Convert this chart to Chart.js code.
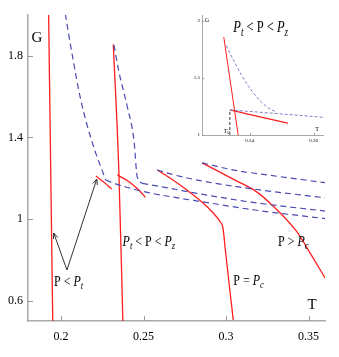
<!DOCTYPE html>
<html>
<head>
<meta charset="utf-8">
<script src="https://cdn.jsdelivr.net/npm/chart.js@4/dist/chart.umd.min.js"></script>
<style>
  html, body { margin: 0; padding: 0; background: #fff; }
  #wrap { position: relative; width: 339px; height: 357px; }
  #main { position: absolute; left: 0; top: 0; }
  #inset { position: absolute; left: 170px; top: 0; }
</style>
</head>
<body>
<div id="wrap">
  <canvas id="main" width="339" height="357"></canvas>
  <canvas id="inset" width="169" height="150"></canvas>
</div>
<script>
// ---- main panel: G against T, [T, G] pairs ----
const xTicks = [0.2, 0.25, 0.3, 0.35];
const yTicks = [0.6, 1, 1.4, 1.8];

// P < Pt
const lowRedSteep = [[0.1925, 2.0], [0.195, 0.5]];
const lowRedStub = [[0.2211, 1.211], [0.2259, 1.181], [0.2307, 1.147]];
const lowDashUpper = [[0.2026, 2.005], [0.2070, 1.796], [0.2120, 1.583], [0.2191, 1.371], [0.2271, 1.191]];
const lowDashLower = [[0.2271, 1.191], [0.2331, 1.172], [0.2410, 1.153], [0.2452, 1.144], [0.2530, 1.129], [0.2681, 1.107], [0.2843, 1.086], [0.3175, 1.044], [0.36, 1.002]];

// Pt < P < Pz
const midRedSteep = [[0.2317, 1.856], [0.2351, 1.225], [0.2375, 0.5]];
const midRedStub = [[0.2342, 1.216], [0.2412, 1.183], [0.2472, 1.142], [0.2512, 1.106]];
const midDashUpper = [[0.2321, 1.853], [0.2351, 1.722], [0.2402, 1.550], [0.2442, 1.387], [0.2462, 1.207], [0.2492, 1.175]];
const midDashLower = [[0.2492, 1.175], [0.2663, 1.150], [0.2843, 1.123], [0.3175, 1.080], [0.36, 1.039]];

// P = Pc
const pcRed = [[0.2583, 1.240], [0.2663, 1.200], [0.2763, 1.142], [0.2863, 1.077], [0.2924, 1.028], [0.2964, 0.987], [0.2980, 0.962], [0.2987, 0.922], [0.2994, 0.864], [0.3044, 0.505]];
const pcDash = [[0.2583, 1.240], [0.2663, 1.221], [0.2843, 1.188], [0.3175, 1.146], [0.36, 1.104]];

// P > Pc
const hiRed = [[0.2855, 1.275], [0.3066, 1.186], [0.3175, 1.139], [0.3272, 1.074], [0.3428, 0.939], [0.3524, 0.814], [0.3608, 0.701]];
const hiDash = [[0.2855, 1.275], [0.3065, 1.237], [0.3205, 1.221], [0.36, 1.178]];

// arrows from the "P < Pt" label
const arrowFrom = [0.2036, 0.75];
const arrowTo = [[0.1956, 0.931], [0.2217, 1.196]];

// ---- inset: zoom on Pt < P < Pz ----
const insetXTicks = [0.24, 0.26];
const insetYTicks = [1, 1.5, 2];
const insetRedSteep = [[0.2319, 1.857], [0.2364, 1.0]];
const insetRedStub = [[0.2338, 1.219], [0.2519, 1.103]];
const insetDashTop = [[0.2327, 1.781], [0.2349, 1.658], [0.2374, 1.526], [0.2402, 1.404], [0.2430, 1.307], [0.2458, 1.237], [0.2483, 1.202]];
const insetDashFlat = [[0.2338, 1.219], [0.2465, 1.192], [0.2629, 1.155]];
const insetT0 = [[0.2338, 1.0], [0.2338, 1.219]];

const RED = 'rgb(255,30,30)';
const BLUE = 'rgb(75,75,180)';
const FONT = '"Liberation Serif", "DejaVu Serif", serif';

const pts = a => a.map(p => ({ x: p[0], y: p[1] }));

function curve(data, color, width, dash) {
  return {
    data: pts(data),
    showLine: true,
    borderColor: color,
    borderWidth: width,
    borderDash: dash || [],
    pointRadius: 0,
    fill: false,
    cubicInterpolationMode: 'monotone'
  };
}

// text like P < P_t : parts are [text, 'n' | 'i' | 's']
function richText(ctx, x, y, parts, size, sx) {
  ctx.save();
  ctx.translate(x, y);
  ctx.scale(sx, 1);
  ctx.textAlign = 'left';
  ctx.textBaseline = 'middle';
  ctx.fillStyle = '#000';
  let cx = 0;
  parts.forEach(([t, s]) => {
    const sz = s === 's' ? size * 0.72 : size;
    ctx.font = (s === 'n' ? '' : 'italic ') + sz + 'px ' + FONT;
    ctx.fillText(t, cx, s === 's' ? size * 0.3 : 0);
    cx += ctx.measureText(t).width;
  });
  ctx.restore();
}

function arrow(ctx, x1, y1, x2, y2) {
  const a = Math.atan2(y2 - y1, x2 - x1);
  ctx.beginPath();
  ctx.moveTo(x1, y1);
  ctx.lineTo(x2, y2);
  ctx.moveTo(x2 - 6 * Math.cos(a - 0.4), y2 - 6 * Math.sin(a - 0.4));
  ctx.lineTo(x2, y2);
  ctx.lineTo(x2 - 6 * Math.cos(a + 0.4), y2 - 6 * Math.sin(a + 0.4));
  ctx.stroke();
}

// tick marks pointing into the plot
const inwardTicks = {
  id: 'inwardTicks',
  afterDraw(chart, args, opts) {
    const ctx = chart.ctx;
    const x = chart.scales.x, y = chart.scales.y;
    const area = chart.chartArea;
    ctx.save();
    ctx.strokeStyle = opts.color;
    ctx.lineWidth = 1;
    x.ticks.forEach(t => {
      const px = Math.round(x.getPixelForValue(t.value)) + 0.5;
      ctx.beginPath();
      ctx.moveTo(px, area.bottom);
      ctx.lineTo(px, area.bottom - opts.len);
      ctx.stroke();
    });
    y.ticks.forEach(t => {
      const py = Math.round(y.getPixelForValue(t.value)) + 0.5;
      ctx.beginPath();
      ctx.moveTo(area.left, py);
      ctx.lineTo(area.left + opts.len, py);
      ctx.stroke();
    });
    ctx.restore();
  }
};

const mainLabels = {
  id: 'mainLabels',
  afterDraw(chart) {
    const ctx = chart.ctx;
    const x = chart.scales.x, y = chart.scales.y;
    const area = chart.chartArea;
    const X = v => x.getPixelForValue(v), Y = v => y.getPixelForValue(v);
    ctx.save();
    ctx.fillStyle = '#000';
    ctx.font = '15px ' + FONT;
    ctx.textAlign = 'center';
    ctx.textBaseline = 'middle';
    ctx.fillText('G', area.left + 9, area.top + 23);
    ctx.fillText('T', area.right - 13, area.bottom - 16);

    richText(ctx, X(0.1958), Y(0.691), [['P < ', 'n'], ['P', 'i'], ['t', 's']], 15, 0.8);
    richText(ctx, X(0.2373), Y(0.887), [['P', 'i'], ['t', 's'], [' < P < ', 'n'], ['P', 'i'], ['z', 's']], 15, 0.8);
    richText(ctx, X(0.3044), Y(0.696), [['P = ', 'n'], ['P', 'i'], ['c', 's']], 15, 0.8);
    richText(ctx, X(0.3315), Y(0.889), [['P > ', 'n'], ['P', 'i'], ['c', 's']], 15, 0.8);

    ctx.strokeStyle = '#333';
    ctx.lineWidth = 1;
    arrowTo.forEach(p => arrow(ctx, X(arrowFrom[0]), Y(arrowFrom[1]), X(p[0]), Y(p[1])));
    ctx.restore();
  }
};

const insetLabels = {
  id: 'insetLabels',
  afterDraw(chart) {
    const ctx = chart.ctx;
    const x = chart.scales.x, y = chart.scales.y;
    const area = chart.chartArea;
    ctx.save();
    ctx.fillStyle = '#000';
    ctx.textAlign = 'center';
    ctx.textBaseline = 'middle';
    ctx.font = '6px ' + FONT;
    ctx.fillText('G', area.left + 5, y.getPixelForValue(2));
    ctx.fillText('T', area.right - 6, area.bottom - 6);
    richText(ctx, x.getPixelForValue(insetT0[0][0]) - 6, area.bottom - 4, [['T', 'i'], ['0', 's']], 6, 1);
    richText(ctx, x.getPixelForValue(0.2349), y.getPixelForValue(1.939), [['P', 'i'], ['t', 's'], [' < P < ', 'n'], ['P', 'i'], ['z', 's']], 16, 0.78);
    ctx.restore();
  }
};

new Chart(document.getElementById('main'), {
  type: 'scatter',
  plugins: [inwardTicks, mainLabels],
  data: {
    datasets: [
      curve(lowDashUpper, BLUE, 1.2, [6, 4]),
      curve(lowDashLower, BLUE, 1.2, [6, 4]),
      curve(midDashUpper, BLUE, 1.2, [6, 4]),
      curve(midDashLower, BLUE, 1.2, [6, 4]),
      curve(pcDash, BLUE, 1.2, [6, 4]),
      curve(hiDash, BLUE, 1.2, [6, 4]),
      curve(lowRedSteep, RED, 1.3),
      curve(lowRedStub, RED, 1.3),
      curve(midRedSteep, RED, 1.3),
      curve(midRedStub, RED, 1.3),
      curve(pcRed, RED, 1.3),
      curve(hiRed, RED, 1.3)
    ]
  },
  options: {
    responsive: false,
    animation: false,
    layout: { padding: { left: 0, right: 14, top: 15, bottom: 0 } },
    plugins: {
      legend: { display: false },
      tooltip: { enabled: false },
      inwardTicks: { len: 5, color: '#999' }
    },
    scales: {
      x: {
        type: 'linear',
        min: 0.18,
        max: 0.36,
        afterBuildTicks: s => { s.ticks = xTicks.map(v => ({ value: v })); },
        afterFit: s => { s.height = 36; },
        grid: { display: false, drawTicks: false },
        border: { color: '#aaa', width: 1.5 },
        ticks: {
          padding: 9,
          color: '#000',
          maxRotation: 0,
          autoSkip: false,
          font: { family: FONT, size: 12 },
          callback: v => String(v)
        }
      },
      y: {
        type: 'linear',
        min: 0.5,
        max: 2.0,
        afterBuildTicks: s => { s.ticks = yTicks.map(v => ({ value: v })); },
        afterFit: s => { s.width = 28; },
        grid: { display: false, drawTicks: false },
        border: { color: '#aaa', width: 1.5 },
        ticks: {
          padding: 5,
          color: '#000',
          autoSkip: false,
          font: { family: FONT, size: 12 },
          callback: v => String(v)
        }
      }
    }
  }
});

new Chart(document.getElementById('inset'), {
  type: 'scatter',
  plugins: [inwardTicks, insetLabels],
  data: {
    datasets: [
      curve(insetDashTop, 'rgb(125,125,205)', 1, [3, 2]),
      curve(insetDashFlat, 'rgb(125,125,205)', 1, [3, 2]),
      curve(insetT0, '#333', 1, [3, 2]),
      curve(insetRedSteep, RED, 1),
      curve(insetRedStub, RED, 1.3)
    ]
  },
  options: {
    responsive: false,
    animation: false,
    layout: { padding: { left: 0, right: 16, top: 15, bottom: 0 } },
    plugins: {
      legend: { display: false },
      tooltip: { enabled: false },
      inwardTicks: { len: 2, color: '#999' }
    },
    scales: {
      x: {
        type: 'linear',
        min: 0.2251,
        max: 0.2629,
        afterBuildTicks: s => { s.ticks = insetXTicks.map(v => ({ value: v })); },
        afterFit: s => { s.height = 15; },
        grid: { display: false, drawTicks: false },
        border: { color: '#aaa', width: 1 },
        ticks: {
          padding: 3,
          color: '#000',
          maxRotation: 0,
          autoSkip: false,
          font: { family: FONT, size: 5 },
          callback: v => String(v)
        }
      },
      y: {
        type: 'linear',
        min: 1,
        max: 2.05,
        afterBuildTicks: s => { s.ticks = insetYTicks.map(v => ({ value: v })); },
        afterFit: s => { s.width = 32; },
        grid: { display: false, drawTicks: false },
        border: { color: '#aaa', width: 1 },
        ticks: {
          padding: 2,
          color: '#000',
          autoSkip: false,
          font: { family: FONT, size: 5 },
          callback: v => String(v)
        }
      }
    }
  }
});
</script>
</body>
</html>
